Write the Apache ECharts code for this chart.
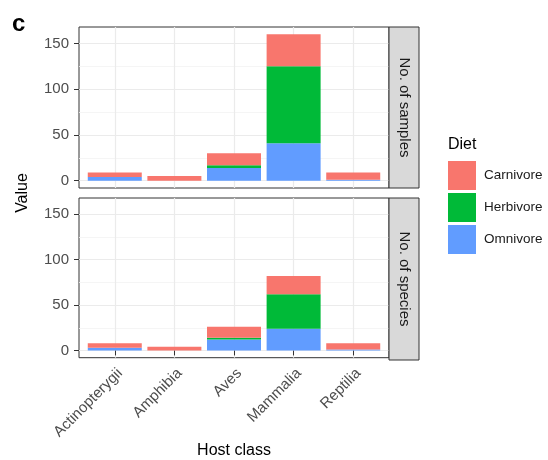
<!DOCTYPE html>
<html>
<head>
<meta charset="utf-8">
<script src="https://cdn.jsdelivr.net/npm/echarts@6/dist/echarts.min.js"></script>
<style>
  html, body { margin: 0; padding: 0; background: #fff; }
  #chart { width: 548px; height: 460px; }
</style>
</head>
<body>
<div id="chart"></div>
<script>
// Host classes along the x axis
const categories = ['Actinopterygii', 'Amphibia', 'Aves', 'Mammalia', 'Reptilia'];

// Facet 1: number of samples per diet
const samplesOmnivore  = [4, 0, 14, 41, 1];
const samplesHerbivore = [0, 0, 3, 84, 0];
const samplesCarnivore = [5, 5, 13, 35, 8];

// Facet 2: number of species per diet
const speciesOmnivore  = [3, 0, 12, 24, 1];
const speciesHerbivore = [0, 0, 2, 38, 0];
const speciesCarnivore = [5, 4, 12, 20, 7];

const panelLabels = ['No. of samples', 'No. of species'];
const dietNames = ['Carnivore', 'Herbivore', 'Omnivore'];
const yBreaks = [0, 50, 100, 150];
const yMinorBreaks = [25, 75, 125];
const xBreaks = [1, 2, 3, 4, 5];

const FONT = '"Liberation Sans", Arial, Helvetica, sans-serif';
const dietColors = { Carnivore: '#F8766D', Herbivore: '#00BA38', Omnivore: '#619CFF' };

const panelValues = [
  { Omnivore: samplesOmnivore, Herbivore: samplesHerbivore, Carnivore: samplesCarnivore },
  { Omnivore: speciesOmnivore, Herbivore: speciesHerbivore, Carnivore: speciesCarnivore }
];

const grids = [
  { left: 79, top: 27, width: 310, height: 161 },
  { left: 79, top: 198, width: 310, height: 162 }
];

const xAxes = grids.map((g, p) => ({
  type: 'value',
  gridIndex: p,
  min: 0.4,
  max: 5.6,
  axisLine: { show: false },
  axisTick: {
    show: p === 1,
    customValues: xBreaks,
    length: 5,
    lineStyle: { color: '#333333', width: 1 }
  },
  axisLabel: {
    show: p === 1,
    customValues: xBreaks,
    formatter: v => categories[Math.round(v) - 1] || '',
    rotate: 45,
    margin: 8,
    align: 'right',
    verticalAlign: 'top',
    fontFamily: FONT,
    fontSize: 15,
    color: '#4D4D4D'
  },
  splitLine: { show: true, lineStyle: { color: '#EBEBEB', width: 1.2 } },
  name: p === 1 ? 'Host class' : '',
  nameLocation: 'middle',
  nameGap: 84,
  nameTextStyle: { fontFamily: FONT, fontSize: 16, color: '#000' }
}));

const yAxes = [];
grids.forEach((g, p) => {
  // major breaks with labels
  yAxes.push({
    type: 'value',
    gridIndex: p,
    min: -8,
    max: 168,
    axisLine: { show: false },
    axisTick: { show: true, customValues: yBreaks, length: 5, lineStyle: { color: '#333333', width: 1 } },
    axisLabel: { customValues: yBreaks, margin: 10, fontFamily: FONT, fontSize: 15, color: '#4D4D4D' },
    splitLine: { show: true, lineStyle: { color: '#EBEBEB', width: 1.2 } }
  });
  // minor breaks: grid lines only
  yAxes.push({
    type: 'value',
    gridIndex: p,
    position: 'left',
    min: -8,
    max: 168,
    axisLine: { show: false },
    axisTick: { show: false, customValues: yMinorBreaks },
    axisLabel: { show: false, customValues: yMinorBreaks },
    splitLine: { show: true, lineStyle: { color: '#F3F3F3', width: 0.8 } }
  });
});

// stacked bars: omnivore at the bottom, carnivore on top.
// Each item is [count, classPosition]; the count comes first so that it is the stacked dimension.
const series = [];
panelValues.forEach((vals, p) => {
  ['Omnivore', 'Herbivore', 'Carnivore'].forEach(diet => {
    series.push({
      type: 'bar',
      name: diet,
      xAxisIndex: p,
      yAxisIndex: p * 2,
      stack: 'panel' + p,
      barWidth: 54,
      itemStyle: { color: dietColors[diet] },
      emphasis: { disabled: true },
      encode: { x: 1, y: 0 },
      data: categories.map((c, i) => [vals[diet][i], i + 1])
    });
  });
});

// facet strips on the right of each panel
const graphics = [];
grids.forEach((g, p) => {
  graphics.push({
    type: 'rect',
    shape: { x: g.left + g.width, y: g.top, width: 30, height: g.height },
    style: { fill: '#D9D9D9', stroke: '#333333', lineWidth: 1 },
    z: 10
  });
  graphics.push({
    type: 'text',
    x: g.left + g.width + 15,
    y: g.top + g.height / 2,
    rotation: -Math.PI / 2,
    style: {
      text: panelLabels[p],
      textAlign: 'center',
      textVerticalAlign: 'middle',
      font: '15px ' + FONT,
      fill: '#1A1A1A'
    },
    z: 11
  });
});
// shared y axis title
graphics.push({
  type: 'text',
  x: 23,
  y: 193,
  rotation: Math.PI / 2,
  style: { text: 'Value', textAlign: 'center', textVerticalAlign: 'middle', font: '16px ' + FONT, fill: '#000' }
});
// panel tag
graphics.push({
  type: 'text',
  x: 12,
  y: 24,
  style: { text: 'c', textAlign: 'left', textVerticalAlign: 'middle', font: 'bold 24px ' + FONT, fill: '#000' }
});
// legend title
graphics.push({
  type: 'text',
  x: 448,
  y: 145,
  style: { text: 'Diet', textAlign: 'left', textVerticalAlign: 'middle', font: '16px ' + FONT, fill: '#000' }
});

const chart = echarts.init(document.getElementById('chart'), null, { renderer: 'canvas' });
chart.setOption({
  animation: false,
  backgroundColor: '#FFFFFF',
  grid: grids.map(g => Object.assign({
    show: true,
    backgroundColor: '#FFFFFF',
    borderColor: '#333333',
    borderWidth: 1,
    containLabel: false
  }, g)),
  xAxis: xAxes,
  yAxis: yAxes,
  legend: {
    data: dietNames,
    orient: 'vertical',
    left: 443,
    top: 156,
    icon: 'rect',
    itemWidth: 28,
    itemHeight: 29,
    itemGap: 3,
    selectedMode: false,
    textStyle: { fontFamily: FONT, fontSize: 13.5, color: '#1A1A1A', padding: [0, 0, 0, 3] }
  },
  graphic: graphics,
  series: series
});
</script>
</body>
</html>
